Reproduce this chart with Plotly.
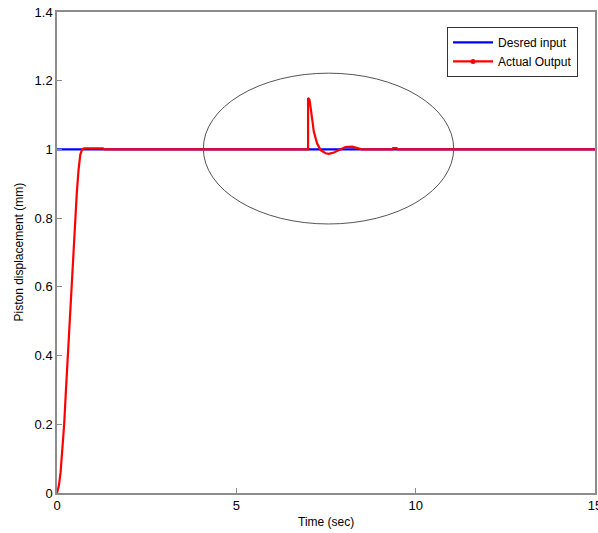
import plotly.graph_objects as go

# ---- data ----
t_input = [0, 15]
y_input = [1.0, 1.0]

t_output = [0, 0.05, 0.1, 0.15, 0.2, 0.25, 0.3, 0.35, 0.4, 0.45, 0.5, 0.55, 0.6, 0.65,
            0.7, 0.75, 0.9, 1.1, 1.28, 1.32, 3.0, 5.0, 7.0, 7.0, 7.04, 7.08, 7.11, 7.16,
            7.25, 7.35, 7.49, 7.58, 7.72, 7.86, 8.04, 8.23, 8.42, 8.5, 9.35, 9.37, 9.47,
            9.49, 12.0, 15.0]
y_output = [0, 0.02, 0.06, 0.12, 0.2, 0.3, 0.4, 0.5, 0.6, 0.7, 0.8, 0.87, 0.94, 0.985,
            1.0, 1.003, 1.003, 1.003, 1.003, 1.0, 1.0, 1.0, 1.0, 1.15, 1.145, 1.115, 1.09,
            1.052, 1.018, 0.998, 0.989, 0.987, 0.991, 0.998, 1.007, 1.008, 1.002, 1.0,
            1.0, 1.004, 1.004, 1.0, 1.0, 1.0]

x_ticks = [0, 5, 10, 15]
y_ticks = [0, 0.2, 0.4, 0.6, 0.8, 1.0, 1.2, 1.4]
y_ticklabels = ["0", "0.2", "0.4", "0.6", "0.8", "1", "1.2", "1.4"]

series_names = ["Desred input", "Actual Output"]

# ellipse highlight region (data coords)
ellipse_x = [4.08, 11.06]
ellipse_y = [0.783, 1.222]

FONT = "Liberation Sans, Arial, sans-serif"
AXIS_COLOR = "#8c8c8c"

fig = go.Figure()
fig.add_trace(go.Scatter(x=t_input, y=y_input, mode="lines", name=series_names[0],
                         line=dict(color="#0000ff", width=2.2)))
fig.add_trace(go.Scatter(x=t_output, y=y_output, mode="lines", name=series_names[1],
                         line=dict(color="#ff0000", width=2.2), showlegend=False,
                         legendgroup="out"))
# legend entry with marker (as in the original legend)
fig.add_trace(go.Scatter(x=[None], y=[None], mode="lines+markers", name=series_names[1],
                         line=dict(color="#ff0000", width=2.2),
                         marker=dict(color="#ff0000", size=5), legendgroup="out"))

fig.add_shape(type="circle", xref="x", yref="y",
              x0=ellipse_x[0], x1=ellipse_x[1], y0=ellipse_y[0], y1=ellipse_y[1],
              line=dict(color="#555555", width=1))

fig.add_annotation(text="Time (sec)", xref="paper", yref="paper", x=0.5, y=0,
                   xanchor="center", yanchor="top", yshift=-20, showarrow=False,
                   font=dict(size=12))
fig.add_annotation(text="Piston displacement (mm)", xref="paper", yref="paper", x=0, y=0.5,
                   xanchor="center", yanchor="middle", xshift=-39, textangle=-90,
                   showarrow=False, font=dict(size=12))

fig.update_layout(
    width=598, height=533,
    margin=dict(l=57, r=3, t=12, b=40),
    paper_bgcolor="white", plot_bgcolor="white",
    font=dict(family=FONT, size=12, color="#000000"),
    legend=dict(x=0.725, y=0.969, xanchor="left", yanchor="top", itemwidth=40,
                bgcolor="white", bordercolor="#333333", borderwidth=1,
                font=dict(size=12), tracegroupgap=0),
    xaxis=dict(range=[0, 15], tickvals=x_ticks, ticks="inside", ticklen=5,
               tickcolor=AXIS_COLOR, showline=True, linecolor=AXIS_COLOR, linewidth=1.5,
               mirror=True, showgrid=False, zeroline=False, automargin=False,
               ticklabeloverflow="allow", tickfont=dict(size=13)),
    yaxis=dict(range=[0, 1.4], tickvals=y_ticks, ticktext=y_ticklabels, ticks="inside",
               ticklen=5, tickcolor=AXIS_COLOR, showline=True, linecolor=AXIS_COLOR,
               linewidth=1.5, mirror=True, showgrid=False, zeroline=False, automargin=False,
               ticklabeloverflow="allow", tickfont=dict(size=13)),
)

# remove the default page margin so the figure fills the window exactly
fig.write_html("out.html", config={"displayModeBar": False},
               post_script="document.body.style.margin='0';document.body.style.overflow='hidden';")
